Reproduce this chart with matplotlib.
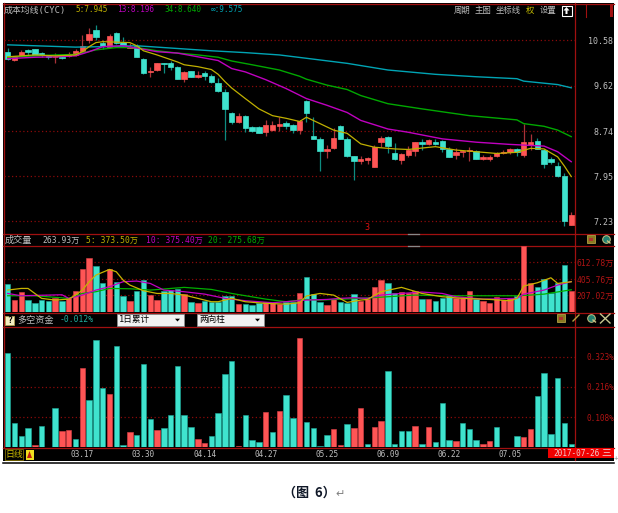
#!/usr/bin/env python3
# -*- coding: utf-8 -*-
import matplotlib
matplotlib.use("Agg")
import matplotlib.pyplot as plt
import matplotlib.ticker as mticker
from matplotlib.patches import Rectangle, Polygon

plt.rcParams["font.family"] = ["Noto Sans CJK SC", "DejaVu Sans"]

# ---- candles, one per trading day
PRICE_OPEN = [10.33, 10.15, 10.26, 10.37, 10.38, 10.30, 10.24, 10.21, 10.22, 10.24,
              10.26, 10.35, 10.59, 10.81, 10.53, 10.43, 10.74, 10.55, 10.42, 10.46,
              10.18, 9.89, 9.94, 10.09, 10.09, 10.01, 9.76, 9.92, 9.79, 9.87,
              9.81, 9.68, 9.50, 9.09, 8.91, 9.03, 8.81, 8.81, 8.73, 8.76,
              8.84, 8.90, 8.86, 8.76, 9.31, 8.65, 8.59, 8.38, 8.43, 8.84,
              8.59, 8.30, 8.21, 8.23, 8.11, 8.54, 8.63, 8.34, 8.23, 8.31,
              8.38, 8.54, 8.50, 8.55, 8.57, 8.42, 8.31, 8.37, 8.38, 8.38,
              8.24, 8.24, 8.29, 8.35, 8.37, 8.42, 8.31, 8.49, 8.56, 8.40,
              8.24, 8.12, 7.95, 7.17]
PRICE_HIGH = [10.41, 10.24, 10.37, 10.38, 10.39, 10.32, 10.26, 10.30, 10.24, 10.32,
              10.38, 10.69, 10.85, 10.93, 10.59, 10.72, 10.76, 10.65, 10.53, 10.50,
              10.19, 10.00, 10.09, 10.09, 10.13, 10.02, 9.91, 9.92, 9.92, 9.92,
              9.85, 9.78, 9.55, 9.10, 9.08, 9.04, 8.83, 8.83, 8.94, 8.92,
              9.00, 8.92, 8.88, 8.95, 9.33, 9.00, 8.63, 8.49, 8.80, 8.85,
              8.63, 8.30, 8.30, 8.27, 8.49, 8.66, 8.66, 8.53, 8.35, 8.47,
              8.55, 8.59, 8.59, 8.60, 8.58, 8.46, 8.43, 8.40, 8.45, 8.40,
              8.32, 8.32, 8.36, 8.40, 8.43, 8.43, 8.87, 8.68, 8.61, 8.42,
              8.27, 8.20, 8.01, 7.37]
PRICE_LOW = [10.15, 10.13, 10.24, 10.26, 10.25, 10.21, 10.17, 10.08, 10.17, 10.21,
             10.24, 10.30, 10.53, 10.58, 10.38, 10.41, 10.50, 10.44, 10.41, 10.21,
             9.86, 9.79, 9.92, 9.88, 9.95, 9.75, 9.70, 9.79, 9.78, 9.74,
             9.68, 9.50, 8.58, 8.88, 8.90, 8.72, 8.72, 8.70, 8.65, 8.75,
             8.75, 8.78, 8.71, 8.68, 8.91, 8.60, 8.04, 8.26, 8.42, 8.59,
             8.28, 7.89, 8.16, 8.16, 8.11, 8.46, 8.34, 8.23, 8.16, 8.28,
             8.30, 8.40, 8.49, 8.49, 8.36, 8.27, 8.24, 8.27, 8.21, 8.24,
             8.23, 8.21, 8.27, 8.33, 8.33, 8.30, 8.28, 8.40, 8.41, 8.09,
             8.15, 7.94, 7.16, 7.17]
PRICE_CLOSE = [10.17, 10.24, 10.33, 10.33, 10.26, 10.25, 10.21, 10.22, 10.20, 10.28,
               10.35, 10.46, 10.72, 10.65, 10.46, 10.68, 10.53, 10.48, 10.44, 10.22,
               9.87, 9.92, 10.08, 10.07, 10.01, 9.76, 9.89, 9.79, 9.83, 9.81,
               9.70, 9.52, 9.16, 8.91, 9.03, 8.80, 8.74, 8.71, 8.86, 8.86,
               8.88, 8.83, 8.76, 8.92, 9.08, 8.60, 8.38, 8.42, 8.62, 8.60,
               8.30, 8.21, 8.24, 8.26, 8.46, 8.61, 8.48, 8.24, 8.33, 8.40,
               8.54, 8.50, 8.58, 8.50, 8.42, 8.27, 8.37, 8.39, 8.40, 8.24,
               8.27, 8.28, 8.35, 8.37, 8.42, 8.37, 8.55, 8.54, 8.42, 8.16,
               8.20, 7.95, 7.23, 7.32]

# ---- cost average lines, read at selected days
MA5_DAY = [0, 4, 7, 10, 11, 12, 13, 14, 16, 18, 19, 20, 22, 25, 26, 28, 30, 31, 32, 33,
           35, 37, 39, 41, 43, 44, 46, 48, 50, 52, 54, 57, 59, 63, 66, 69, 72, 75, 77,
           79, 81, 82, 83]
MA5_VAL = [10.22, 10.26, 10.24, 10.26, 10.33, 10.44, 10.53, 10.55, 10.54, 10.53, 10.46,
           10.35, 10.26, 10.11, 10.05, 10.01, 9.95, 9.85, 9.70, 9.57, 9.36, 9.16, 9.03,
           8.98, 8.92, 9.00, 8.88, 8.76, 8.70, 8.51, 8.45, 8.42, 8.41, 8.46, 8.40, 8.37,
           8.34, 8.36, 8.43, 8.42, 8.28, 8.12, 7.945]
MA13_DAY = [0, 4, 7, 10, 12, 14, 17, 19, 22, 25, 28, 31, 33, 35, 38, 41, 44, 47, 50, 52,
            54, 56, 59, 64, 69, 74, 79, 81, 83]
MA13_VAL = [10.18, 10.21, 10.22, 10.24, 10.33, 10.44, 10.46, 10.41, 10.33, 10.30, 10.22,
            10.14, 9.97, 9.90, 9.74, 9.56, 9.36, 9.23, 9.09, 8.94, 8.86, 8.78, 8.72,
            8.60, 8.54, 8.50, 8.47, 8.37, 8.196]
MA34_DAY = [0, 7, 10, 13, 16, 19, 22, 25, 28, 31, 33, 36, 40, 43, 44, 47, 50, 52, 56, 61,
            68, 75, 76, 79, 81, 83]
MA34_VAL = [10.21, 10.26, 10.27, 10.37, 10.42, 10.42, 10.35, 10.30, 10.26, 10.21, 10.13,
            10.05, 9.94, 9.81, 9.75, 9.63, 9.54, 9.42, 9.26, 9.16, 9.03, 8.95, 8.88,
            8.83, 8.76, 8.64]
MAINF_DAY = [0, 10, 14, 19, 24, 30, 35, 40, 45, 50, 56, 63, 69, 75, 76, 81, 83]
MAINF_VAL = [10.48, 10.43, 10.44, 10.46, 10.41, 10.35, 10.31, 10.26, 10.17, 10.08, 9.94,
             9.85, 9.80, 9.76, 9.71, 9.64, 9.575]

PRICE_TICKS = [7.23, 7.95, 8.74, 9.62, 10.58]
PRICE_LABELS = ["7.23", "7.95", "8.74", "9.62", "10.58"]

# ---- volume, unit: 10k
VOLUME = [341, 150, 248, 150, 118, 154, 142, 179, 142, 175,
          260, 524, 658, 560, 353, 524, 365, 195, 142, 260,
          394, 215, 150, 260, 272, 284, 219, 126, 118, 142,
          122, 130, 199, 199, 101, 101, 85, 118, 130, 110,
          97, 130, 122, 240, 434, 223, 130, 85, 162, 126,
          110, 223, 142, 158, 313, 394, 353, 231, 248, 240,
          260, 162, 162, 142, 179, 207, 171, 171, 256, 158,
          142, 118, 183, 150, 179, 203, 808, 353, 305, 402,
          231, 361, 577, 263.93]
VOLUME_UP = [0, 1, 1, 0, 0, 0, 0, 1, 0, 1,
             1, 1, 1, 0, 0, 1, 0, 0, 1, 0,
             0, 1, 1, 0, 0, 0, 1, 0, 1, 0,
             0, 0, 0, 0, 1, 0, 0, 0, 1, 1,
             1, 0, 0, 1, 0, 0, 0, 1, 1, 0,
             0, 0, 1, 1, 1, 1, 0, 0, 1, 1,
             1, 0, 1, 0, 0, 0, 1, 1, 1, 0,
             1, 1, 1, 1, 1, 0, 1, 1, 0, 0,
             0, 0, 0, 1]

VOL5_DAY = [0, 2, 3, 4, 5, 7, 9, 10, 11, 12, 13, 15, 16, 17, 18, 20, 22, 24, 26, 28, 30,
            31, 33, 35, 38, 41, 43, 44, 46, 48, 50, 52, 53, 55, 58, 61, 64, 67, 71, 74,
            75, 76, 78, 80, 81, 83]
VOL5_VAL = [272, 292, 292, 231, 171, 150, 162, 211, 272, 374, 455, 524, 495, 394, 333,
            264, 231, 231, 211, 171, 130, 130, 171, 130, 110, 101, 118, 200, 231, 211,
            122, 150, 158, 252, 305, 231, 191, 171, 158, 142, 171, 321, 361, 422, 353,
            373.5]
VOL10_DAY = [0, 2, 4, 8, 9, 11, 13, 15, 17, 19, 21, 23, 26, 29, 32, 35, 39, 44, 47, 49,
             51, 53, 55, 58, 61, 64, 66, 70, 75, 76, 79, 81, 83]
VOL10_VAL = [231, 203, 207, 215, 171, 211, 272, 313, 374, 382, 353, 272, 252, 223, 171,
             142, 118, 150, 158, 171, 179, 171, 211, 231, 248, 231, 191, 162, 171, 223,
             272, 333, 375.4]
VOL20_DAY = [0, 4, 9, 11, 13, 15, 18, 21, 26, 30, 33, 38, 41, 44, 46, 52, 60, 64, 69, 75,
             77, 79, 83]
VOL20_VAL = [203, 203, 171, 231, 252, 292, 288, 272, 305, 280, 231, 162, 130, 158, 150,
             171, 211, 203, 203, 203, 211, 223, 275.68]

VOLUME_TICKS = [207.02, 405.76, 612.78]
VOLUME_LABELS = ["207.02万", "405.76万", "612.78万"]

# ---- long/short funds, unit: percent
FUNDS = [.336, .088, .040, .068, .008, .076, 0, .139, .058, .062,
         .030, .284, .169, .383, .211, .189, .363, .007, .054, .044,
         .299, .102, .062, .068, .114, .289, .114, .071, .030, .015,
         .039, .121, .261, .307, .004, .114, .027, .020, .126, .054,
         .129, .186, .105, .389, .089, .068, .005, .044, .064, .007,
         .082, .069, .140, .011, .071, .095, .274, .013, .058, .058,
         .076, .011, .073, .018, .157, .027, .023, .086, .067, .025,
         .011, .023, .073, 0, .002, .042, .036, .064, .183, .264,
         .049, .248, .087, .013]
FUNDS_UP = [0, 0, 0, 0, 1, 0, 0, 0, 1, 1,
            0, 1, 0, 0, 0, 1, 0, 0, 1, 0,
            0, 0, 1, 0, 0, 0, 0, 0, 1, 1,
            0, 0, 0, 0, 1, 0, 0, 0, 1, 0,
            1, 0, 0, 1, 0, 0, 0, 0, 1, 1,
            0, 1, 1, 0, 1, 1, 0, 0, 0, 0,
            1, 0, 1, 0, 0, 0, 1, 0, 0, 0,
            1, 1, 0, 0, 0, 0, 1, 1, 0, 0,
            0, 0, 0, 0]

FUNDS_TICKS = [0.108, 0.216, 0.323]
FUNDS_LABELS = ["0.108%", "0.216%", "0.323%"]

DATE_DAYS = [11, 20, 29, 38, 47, 56, 65, 74]
DATE_LABELS = ["03.17", "03.30", "04.14", "04.27", "05.25", "06.09", "06.22", "07.05"]

# =============================================================================
W, H = 618, 513
CYAN = "#3FE3CE"
CYAN_DK = "#0E8C80"
RED = "#FF5555"
RED_DK = "#A83238"
FRAME = "#A01010"
GRID = "#8A0A0A"
GRAY = "#BEBEBE"
YEL = "#C0B000"
MAG = "#C000C0"
GRN = "#00A800"
TEAL = "#00A4B4"
AXIS_RED = "#B01414"
MONO = ["DejaVu Sans Mono", "Noto Sans CJK SC"]

# x of day 0 and width of one day, in pixels
X0, STEP = 7.67, 6.79
LEFT, RIGHT = 3.5, 574.7


def panel(fig, top, bottom):
    ax = fig.add_axes([LEFT / W, 1 - bottom / H, (RIGHT - LEFT) / W, (bottom - top) / H])
    ax.set_facecolor("none")
    ax.set_xlim((LEFT - X0) / STEP, (RIGHT - X0) / STEP)
    for s in ax.spines.values():
        s.set_visible(False)
    ax.set_xticks([])
    ax.yaxis.tick_right()
    ax.set_axisbelow(True)
    ax.grid(axis="y", color=GRID, linestyle=(0, (1, 2)), linewidth=0.9)
    return ax


def set_right_ticks(ax, ticks, labels, color, pad, size=5.8):
    ax.set_yticks(ticks)
    ax.set_yticklabels(labels, family=MONO, fontsize=size, color=color, ha="right")
    ax.yaxis.set_minor_locator(mticker.NullLocator())
    ax.tick_params(axis="y", length=0, pad=pad)


def draw_columns(ax, values, ups):
    days = list(range(len(values)))
    colors = [RED if u else CYAN for u in ups]
    edges = ["#E04048" if u else "#1CA898" for u in ups]
    ax.bar(days, values, width=0.8, color=colors, edgecolor=edges, linewidth=0.4)


def plot_price(fig):
    ax = panel(fig, 4, 234.3)
    ax.set_yscale("log")
    ax.set_ylim(7.036, 11.42)
    days = list(range(len(PRICE_OPEN)))
    for d, o, h, l, c in zip(days, PRICE_OPEN, PRICE_HIGH, PRICE_LOW, PRICE_CLOSE):
        up = c >= o
        ax.vlines(d, l, h, color=RED_DK if up else CYAN_DK, linewidth=0.9, zorder=2)
        low, high = min(o, c), max(o, c)
        ax.bar(d, high - low, bottom=low, width=0.8, color=RED if up else CYAN,
               edgecolor=RED if up else CYAN, linewidth=0.5, zorder=3)
    ax.plot(MAINF_DAY, MAINF_VAL, color=TEAL, linewidth=1.0, zorder=4)
    ax.plot(MA34_DAY, MA34_VAL, color=GRN, linewidth=1.0, zorder=4)
    ax.plot(MA13_DAY, MA13_VAL, color=MAG, linewidth=1.0, zorder=4)
    ax.plot(MA5_DAY, MA5_VAL, color=YEL, linewidth=0.9, zorder=5)
    set_right_ticks(ax, PRICE_TICKS, PRICE_LABELS, GRAY, 27.6, size=6)


def plot_volume(fig):
    ax = panel(fig, 245.7, 312.4)
    ax.set_ylim(0, 813)
    draw_columns(ax, VOLUME, VOLUME_UP)
    ax.plot(VOL20_DAY, VOL20_VAL, color="#00B000", linewidth=0.9)
    ax.plot(VOL10_DAY, VOL10_VAL, color=MAG, linewidth=0.9)
    ax.plot(VOL5_DAY, VOL5_VAL, color="#C8B400", linewidth=0.9)
    set_right_ticks(ax, VOLUME_TICKS, VOLUME_LABELS, AXIS_RED, 28.3)


def plot_funds(fig):
    ax = panel(fig, 327, 447.3)
    ax.set_ylim(0, 0.4295)
    draw_columns(ax, FUNDS, FUNDS_UP)
    set_right_ticks(ax, FUNDS_TICKS, FUNDS_LABELS, AXIS_RED, 28.6, size=5.6)
    ax.set_xticks(DATE_DAYS)
    ax.set_xticklabels(DATE_LABELS, family=MONO, fontsize=5.6, color=GRAY)
    ax.tick_params(axis="x", length=0, pad=2.2)


def small_text(ov, x, y, s, color, size=6.2, ha="left", **kw):
    kw.setdefault("family", MONO)
    ov.text(x, y, s, color=color, fontsize=size, ha=ha, va="center", **kw)


def draw_frame(ov):
    ov.add_patch(Rectangle((3, 3), 611, 457.7, facecolor="black", edgecolor="none"))
    ov.plot([3, 614], [462.8, 462.8], color="black", linewidth=1.1)
    for y in (3.5, 234.3, 245.7, 312.6, 327, 447.5):
        ov.plot([3, 614], [y, y], color=FRAME, linewidth=0.9)
    ov.plot([3.5, 3.5], [3, 447.5], color=FRAME, linewidth=0.9)
    ov.plot([RIGHT, RIGHT], [3, 460], color=FRAME, linewidth=0.9)
    # corner ticks at the upper right
    ov.plot([585.5, 585.5], [4, 17], color=FRAME, linewidth=0.8)
    ov.add_patch(Rectangle((610, 4), 3, 13, facecolor=FRAME, edgecolor="none"))
    # grey dashes below the price panel
    ov.plot([408, 419], [234.3, 234.3], color="#888888", linewidth=0.9, zorder=6)
    ov.plot([408, 419], [245.7, 245.7], color="#888888", linewidth=0.9, zorder=6)


def draw_price_header(ov):
    small_text(ov, 4, 10, "成本均线(CYC)", GRAY, size=6.4)
    small_text(ov, 75, 10, "5:7.945", YEL, size=5.6)
    small_text(ov, 117, 10, "13:8.196", MAG, size=5.6)
    small_text(ov, 164, 10, "34:8.640", GRN, size=5.6)
    small_text(ov, 211, 10, "∞:9.575", TEAL, size=5.6)
    small_text(ov, 454, 10.5, "周期", GRAY, size=6)
    small_text(ov, 475, 10.5, "主图", GRAY, size=6)
    small_text(ov, 496, 10.5, "坐标线", GRAY, size=6)
    small_text(ov, 526, 10.5, "权", "#C8C000", size=6)
    small_text(ov, 540, 10.5, "设置", GRAY, size=6)
    ov.add_patch(Rectangle((561.5, 5.5), 10, 10, facecolor="black", edgecolor="white",
                           linewidth=0.8))
    ov.add_patch(Polygon([(566.5, 7), (569.5, 10.5), (567.5, 10.5), (567.5, 14),
                          (565.5, 14), (565.5, 10.5), (563.5, 10.5)], facecolor="white",
                         edgecolor="none"))
    small_text(ov, 367, 228, "3", "#E01010", size=6, ha="center")


def draw_volume_header(ov):
    small_text(ov, 4.5, 240, "成交量", GRAY, size=6.6)
    small_text(ov, 42.5, 240, "263.93万", GRAY, size=5.8)
    small_text(ov, 86.5, 240, "5: 373.50万", YEL, size=5.8)
    small_text(ov, 145.5, 240, "10: 375.40万", MAG, size=5.8)
    small_text(ov, 208, 240, "20: 275.68万", GRN, size=5.8)


def draw_icons(ov, x_win, x_lens, y):
    ov.add_patch(Rectangle((x_win - 4, y - 4), 8, 8, facecolor="#8A7A20", edgecolor="#C8B450",
                           linewidth=0.5, zorder=6))
    ov.add_patch(Rectangle((x_win - 2, y - 1), 4, 3, facecolor="#B03030", edgecolor="none",
                           zorder=7))
    ov.plot([x_lens], [y - 0.5], marker="o", markersize=5.5, markerfacecolor="#208070",
            markeredgecolor="#C8C080", markeredgewidth=0.7, zorder=6)
    ov.plot([x_lens + 2, x_lens + 4.5], [y + 2, y + 4], color="#C8C080", linewidth=1, zorder=6)


def draw_combo(ov, x0, x1, label):
    ov.add_patch(Rectangle((x0, 313.5), x1 - x0, 12.5, facecolor="#F2F2F2", edgecolor="#909090",
                           linewidth=0.5, zorder=6))
    small_text(ov, x0 + 2, 319.7, label, "black", size=6.2, zorder=7)
    ov.add_patch(Polygon([(x1 - 9, 318.7), (x1 - 4, 318.7), (x1 - 6.5, 321.5)],
                         facecolor="black", edgecolor="none", zorder=7))


def draw_funds_header(ov):
    ov.add_patch(Rectangle((5, 316), 8.5, 8.5, facecolor="#F5EFC0", edgecolor="#B0A050",
                           linewidth=0.6, zorder=6))
    small_text(ov, 9.2, 320.2, "?", "black", size=6, ha="center", zorder=7, fontweight="bold")
    small_text(ov, 17, 320, "多空资金", GRAY, size=6.6)
    small_text(ov, 60, 320, "-0.012%", "#20B0A0", size=5.8)
    draw_combo(ov, 117, 184, "1日累计")
    draw_combo(ov, 197, 264, "两向柱")
    draw_icons(ov, 561, 591, 318)
    ov.plot([573, 579], [321, 315], color="#B0A040", linewidth=1, zorder=6)
    for x0, y0, x1, y1 in ((600.5, 314, 610, 323), (600.5, 323, 610, 314)):
        ov.plot([x0, x1], [y0, y1], color="#C8C890", linewidth=1, zorder=6)
    draw_icons(ov, 590.5, 605.5, 239)


def draw_footer(ov):
    ov.add_patch(Rectangle((4.5, 449), 18.5, 11, facecolor="black", edgecolor="#807000",
                           linewidth=0.6))
    small_text(ov, 5.5, 454.5, "日线", "#C8B800", size=6.4)
    ov.add_patch(Rectangle((25.5, 449.5), 8, 10, facecolor="#F0E020", edgecolor="none"))
    ov.add_patch(Polygon([(29.5, 451), (32, 458), (27, 458)], facecolor="#C02010",
                         edgecolor="none"))
    ov.add_patch(Rectangle((548, 447.8), 66, 10, facecolor="#F00000", edgecolor="none", zorder=6))
    small_text(ov, 553, 453, "2017-07-26", "#F0D0D0", size=5.6, zorder=7)
    small_text(ov, 601, 452.5, "三", "#F0D0D0", size=7, zorder=7)
    small_text(ov, 616, 457.5, "+", "#909090", size=5, ha="center")
    # caption
    ov.text(309, 492.5, "（图  6）", color="#101828", fontsize=9.4, fontweight="bold",
            ha="center", va="center")
    ov.text(340, 494, "↵", color="#808080", fontsize=8, ha="center", va="center",
            family=["DejaVu Sans"])


def main():
    fig = plt.figure(figsize=(W / 100, H / 100), dpi=100, facecolor="white")
    ov = fig.add_axes([0, 0, 1, 1])
    ov.set_xlim(0, W)
    ov.set_ylim(H, 0)
    ov.axis("off")

    draw_frame(ov)
    plot_price(fig)
    plot_volume(fig)
    plot_funds(fig)
    draw_price_header(ov)
    draw_volume_header(ov)
    draw_funds_header(ov)
    draw_footer(ov)

    fig.savefig("out.png", dpi=100)


if __name__ == "__main__":
    main()
